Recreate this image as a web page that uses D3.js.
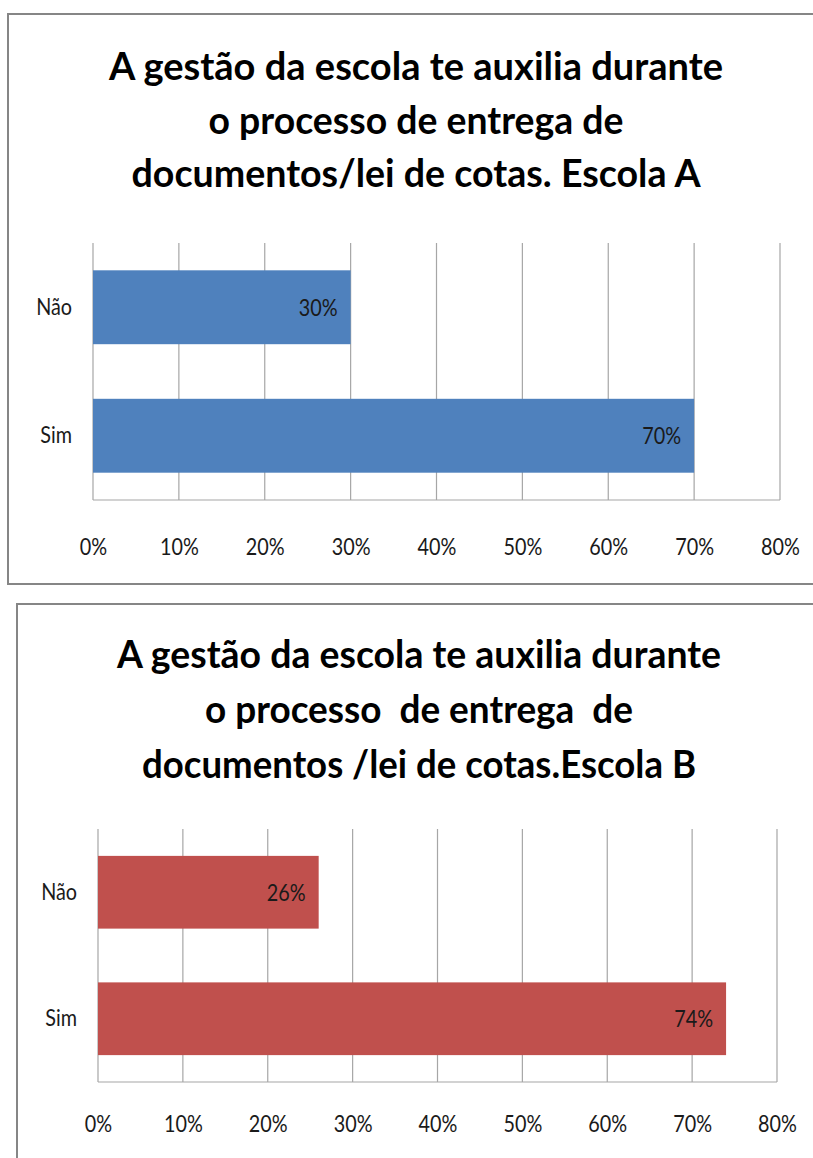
<!DOCTYPE html>
<html>
<head>
<meta charset="utf-8">
<script src="https://cdn.jsdelivr.net/npm/d3@7"></script>
<style>
  html, body { margin: 0; padding: 0; background: #fff; }
  svg { display: block; }
  text { font-family: Lato, "Open Sans", sans-serif; }
  text.title { white-space: pre; }
</style>
</head>
<body>
<svg id="chart" width="813" height="1158"></svg>
<script>
// ---------- data ----------
const categories = ["Não", "Sim"];
const valuesA = [30, 70];
const valuesB = [26, 74];
const tickValues = [0, 10, 20, 30, 40, 50, 60, 70, 80];
const titleA = [
  "A gestão da escola te auxilia durante",
  "o processo de entrega de",
  "documentos/lei de cotas. Escola A"
];
const titleB = [
  "A gestão da escola te auxilia durante",
  "o processo  de entrega  de",
  "documentos /lei de cotas.Escola B"
];

// ---------- layout ----------
const svg = d3.select("#chart");
const charts = [
  {
    values: valuesA, title: titleA, color: "#4F81BD",
    box: { x: 8, y: 14, w: 830, h: 570 },
    plot: { x0: 93, x1: 780, y0: 243, y1: 500 },
    titleX: 416, titleY: [80, 133.5, 187], titleW: [614, 415, 569],
    tickY: 549
  },
  {
    values: valuesB, title: titleB, color: "#C0504D",
    box: { x: 17, y: 604, w: 830, h: 600 },
    plot: { x0: 98, x1: 777, y0: 829, y1: 1082 },
    titleX: 419, titleY: [668, 723, 778], titleW: [604, 428, 554],
    tickY: 1126
  }
];

function squeeze(sel, f) {
  sel.each(function () {
    const len = this.getComputedTextLength();
    d3.select(this).attr("textLength", len * f).attr("lengthAdjust", "spacingAndGlyphs");
  });
}

charts.forEach(c => {
  const g = svg.append("g");
  // outer chart border
  g.append("rect")
    .attr("x", c.box.x).attr("y", c.box.y)
    .attr("width", c.box.w).attr("height", c.box.h)
    .attr("fill", "#fff").attr("stroke", "#868686").attr("stroke-width", 2);

  // title
  g.selectAll("text.title").data(c.title).join("text")
    .attr("class", "title")
    .attr("x", c.titleX)
    .attr("y", (d, i) => c.titleY[i])
    .attr("text-anchor", "middle")
    .attr("font-size", 39)
    .attr("font-weight", "bold")
    .attr("fill", "#000")
    .attr("textLength", (d, i) => c.titleW[i])
    .attr("lengthAdjust", "spacingAndGlyphs")
    .text(d => d);

  const x = d3.scaleLinear().domain([0, 80]).range([c.plot.x0, c.plot.x1]);
  const y = d3.scaleBand().domain(categories)
    .range([c.plot.y0, c.plot.y1]).paddingInner(0.425).paddingOuter(0.2125);

  // gridlines
  g.append("g").selectAll("line").data(tickValues).join("line")
    .attr("x1", d => x(d)).attr("x2", d => x(d))
    .attr("y1", c.plot.y0).attr("y2", c.plot.y1)
    .attr("stroke", "#a6a6a6").attr("stroke-width", 1.2);
  // bottom axis line
  g.append("line")
    .attr("x1", c.plot.x0).attr("x2", c.plot.x1)
    .attr("y1", c.plot.y1).attr("y2", c.plot.y1)
    .attr("stroke", "#a6a6a6").attr("stroke-width", 1.2);

  // bars
  g.append("g").selectAll("rect").data(categories).join("rect")
    .attr("x", x(0))
    .attr("y", d => y(d))
    .attr("width", (d, i) => x(c.values[i]) - x(0))
    .attr("height", y.bandwidth())
    .attr("fill", c.color);

  // data labels
  const dl = g.append("g").selectAll("text").data(categories).join("text")
    .attr("x", (d, i) => x(c.values[i]) - 13)
    .attr("y", d => y(d) + y.bandwidth() / 2)
    .attr("dy", "0.36em")
    .attr("text-anchor", "end")
    .attr("font-size", 23)
    .attr("fill", "#1a1a1a")
    .text((d, i) => c.values[i] + "%");
  squeeze(dl, 0.86);

  // category axis labels
  const yAxis = d3.axisLeft(y).tickSize(0).tickPadding(21);
  const ya = g.append("g").attr("transform", `translate(${c.plot.x0},0)`).call(yAxis);
  ya.select(".domain").remove();
  ya.selectAll("text").attr("font-size", 23).attr("fill", "#1a1a1a")
    .attr("font-family", "Lato, sans-serif");
  squeeze(ya.selectAll("text"), 0.86);

  // value axis tick labels
  const xAxis = d3.axisBottom(x).tickValues(tickValues).tickSize(0).tickPadding(0)
    .tickFormat(d => d + "%");
  const xa = g.append("g").attr("transform", `translate(0,${c.tickY})`).call(xAxis);
  xa.select(".domain").remove();
  xa.selectAll("text").attr("font-size", 23).attr("fill", "#1a1a1a")
    .attr("font-family", "Lato, sans-serif").attr("dy", "0").attr("y", 0)
    .attr("dominant-baseline", "middle");
  squeeze(xa.selectAll("text"), 0.86);
});
</script>
</body>
</html>
